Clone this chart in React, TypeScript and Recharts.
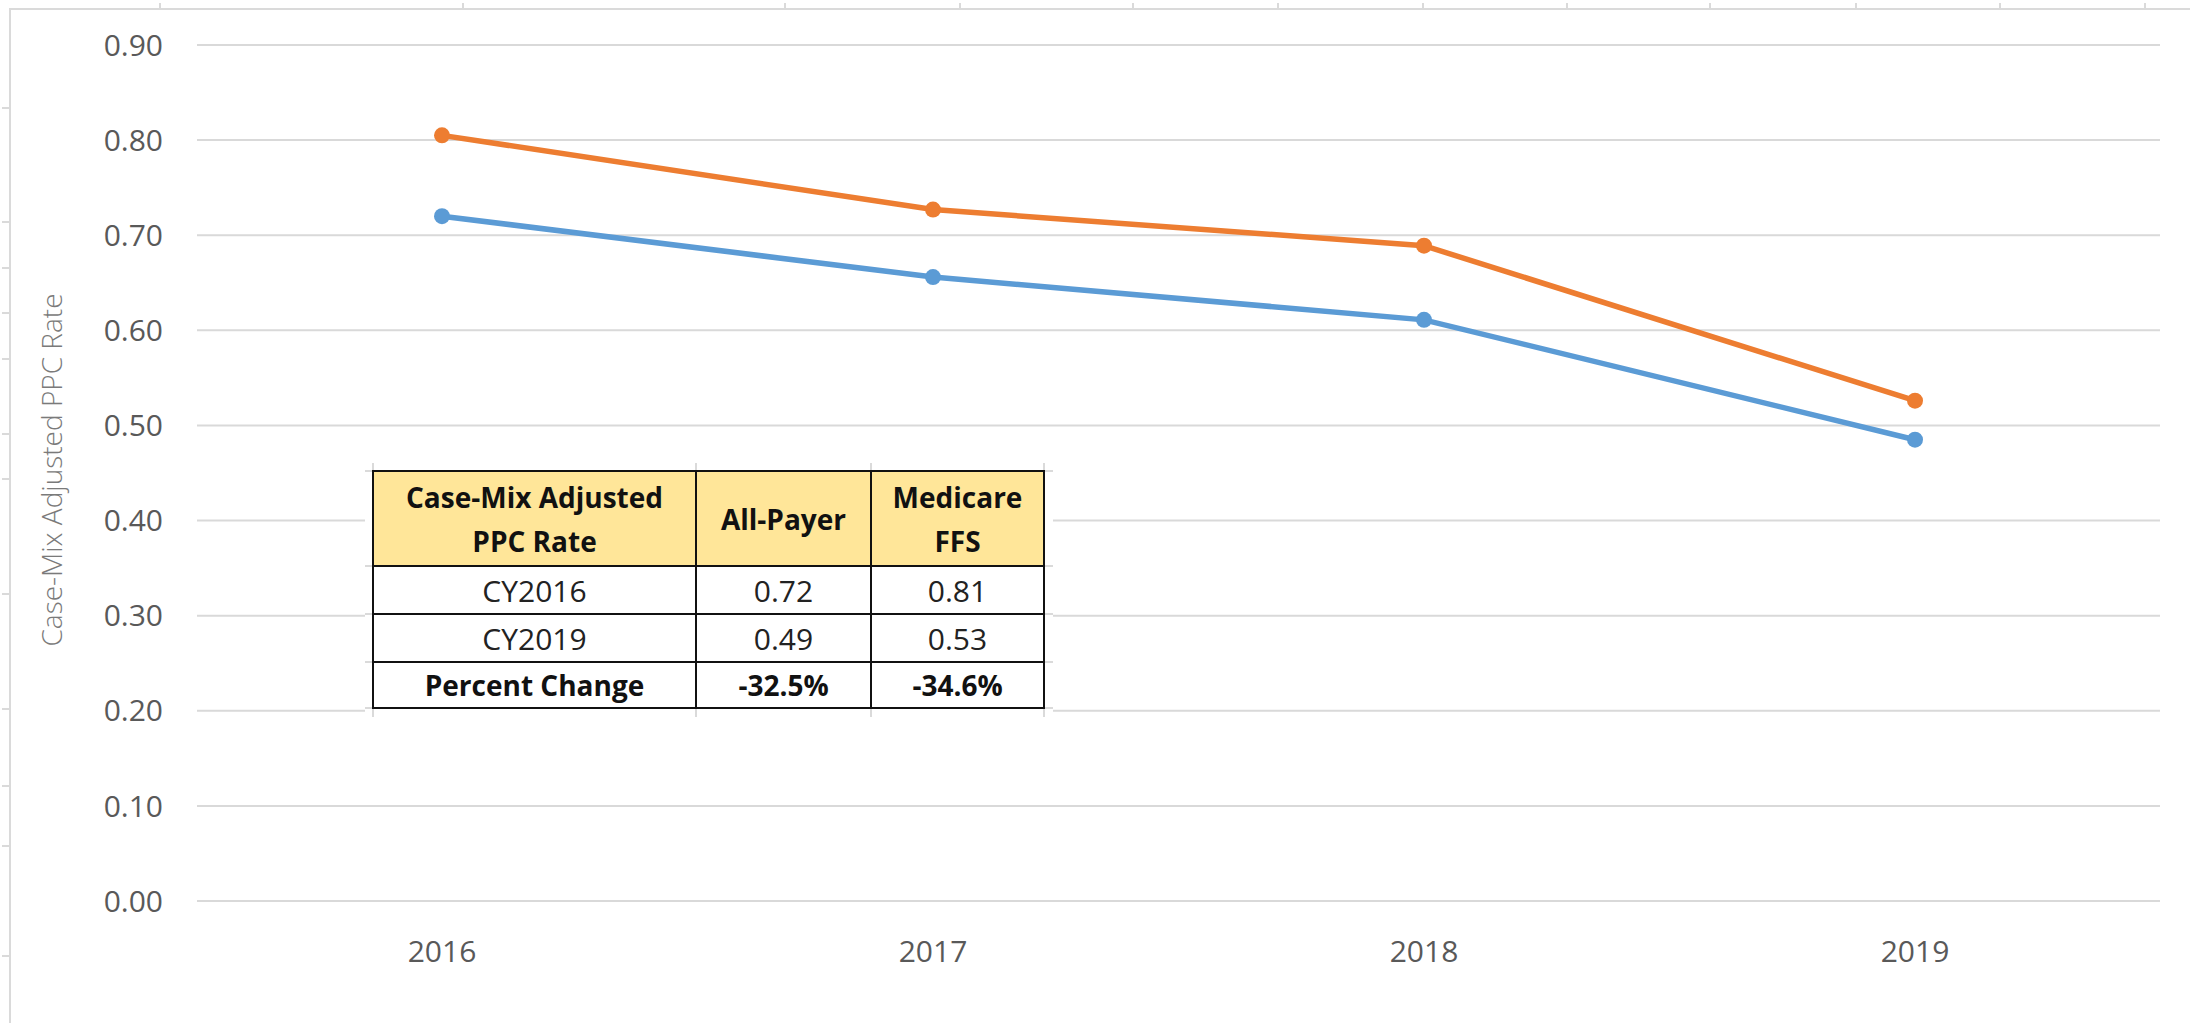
import { CartesianGrid, Line, LineChart, XAxis, YAxis } from 'recharts';

const years = ['2016', '2017', '2018', '2019'];
const allPayer = [0.72, 0.656, 0.611, 0.485];
const medicareFfs = [0.805, 0.727, 0.689, 0.526];
const yTicks = [0, 0.1, 0.2, 0.3, 0.4, 0.5, 0.6, 0.7, 0.8, 0.9];

const tableHeader = ['Case-Mix Adjusted PPC Rate', 'All-Payer', 'Medicare FFS'];
const tableRows = [
  ['CY2016', '0.72', '0.81'],
  ['CY2019', '0.49', '0.53'],
];
const tableChange = ['Percent Change', '-32.5%', '-34.6%'];

const rows = years.map((year, i) => ({ year, allPayer: allPayer[i], medicare: medicareFfs[i] }));

// spreadsheet cell edges peeking around the chart object
const sheetColEdges = [159, 462, 784, 959, 1132, 1277, 1422, 1566, 1709, 1855, 1999, 2144];
const sheetRowEdges = [107, 221, 267, 312, 358, 433, 478, 593, 708, 785, 845, 955];
// sheet lines inside the pasted table picture (relative to its white box)
const pasteRowLines = [8, 103, 151, 199, 245];
const pasteColLines = [8, 331, 506, 679];

const FONT = '"Open Sans", "Liberation Sans", sans-serif';
const SHEET = '#dadada';

const cell = (extra: React.CSSProperties = {}): React.CSSProperties => ({
  border: '2px solid #111',
  textAlign: 'center',
  padding: 0,
  color: '#222',
  fontSize: 30,
  ...extra,
});

export default function App() {
  return (
    <div style={{ position: 'absolute', left: 0, top: 0, width: 2190, height: 1023, background: '#fff', overflow: 'hidden', fontFamily: FONT }}>
      {/* frame lines */}
      <div style={{ position: 'absolute', left: 10, top: 8, width: 2180, height: 2, background: SHEET }} />
      <div style={{ position: 'absolute', left: 9, top: 8, width: 2, height: 1015, background: SHEET }} />
      {sheetColEdges.map((x) => (
        <div key={'c' + x} style={{ position: 'absolute', left: x, top: 3, width: 2, height: 6, background: SHEET }} />
      ))}
      {sheetRowEdges.map((y) => (
        <div key={'r' + y} style={{ position: 'absolute', left: 2, top: y, width: 8, height: 2, background: SHEET }} />
      ))}

      <div style={{ position: 'absolute', left: 0, top: 0 }}>
        <LineChart width={2190} height={1023} data={rows} margin={{ top: 45, right: 30, bottom: 62, left: 137 }}>
          <CartesianGrid vertical={false} stroke="#d9d9d9" strokeWidth={2} />
          <XAxis
            dataKey="year"
            axisLine={false}
            tickLine={false}
            tickSize={0}
            tickMargin={40}
            height={60}
            padding={{ left: 245, right: 245 }}
            tick={{ fill: '#595959', fontSize: 30, fontFamily: FONT }}
          />
          <YAxis
            domain={[0, 0.9]}
            ticks={yTicks}
            width={60}
            axisLine={false}
            tickLine={false}
            tickSize={0}
            tickMargin={34}
            tickFormatter={(v: number) => v.toFixed(2)}
            tick={{ fill: '#595959', fontSize: 30, fontFamily: FONT }}
            label={{
              content: ({ viewBox }: any) => {
                const cy = viewBox.y + viewBox.height / 2 - 3;
                return (
                  <text
                    x={51}
                    y={cy}
                    transform={`rotate(-90, 51, ${cy})`}
                    textAnchor="middle"
                    dominantBaseline="central"
                    fill="#7a7a7a"
                    fontSize={28}
                    fontFamily={FONT}
                    fontWeight={300}
                  >
                    Case-Mix Adjusted PPC Rate
                  </text>
                );
              },
            }}
          />
          <Line
            dataKey="allPayer"
            name="All-Payer"
            stroke="#5B9BD5"
            strokeWidth={5.5}
            dot={{ r: 8, fill: '#5B9BD5', stroke: 'none' }}
            isAnimationActive={false}
          />
          <Line
            dataKey="medicare"
            name="Medicare FFS"
            stroke="#ED7D31"
            strokeWidth={5.5}
            dot={{ r: 8, fill: '#ED7D31', stroke: 'none' }}
            isAnimationActive={false}
          />
        </LineChart>
      </div>

      {/* pasted table picture: white box with faint sheet lines, then the table */}
      <div style={{ position: 'absolute', left: 365, top: 463, width: 688, height: 254, background: '#fff' }}>
        {pasteRowLines.map((y) => (
          <div key={'pr' + y} style={{ position: 'absolute', left: 0, top: y - 1, width: 688, height: 2, background: SHEET }} />
        ))}
        {pasteColLines.map((x) => (
          <div key={'pc' + x} style={{ position: 'absolute', left: x - 1, top: 0, width: 2, height: 254, background: SHEET }} />
        ))}
        <table
          style={{
            position: 'absolute',
            left: 7,
            top: 7,
            borderCollapse: 'collapse',
            fontFamily: FONT,
            background: '#fff',
          }}
        >
          <colgroup>
            <col style={{ width: 323 }} />
            <col style={{ width: 175 }} />
            <col style={{ width: 173 }} />
          </colgroup>
          <tbody>
            <tr style={{ height: 95 }}>
              {tableHeader.map((h, i) => (
                <td
                  key={h}
                  style={cell({
                    background: '#FFE699',
                    fontWeight: 700,
                    fontSize: 28,
                    lineHeight: '44px',
                    color: '#111',
                    padding: i === 0 ? '0 8px' : '0 4px',
                  })}
                >
                  {h}
                </td>
              ))}
            </tr>
            {tableRows.map((r) => (
              <tr key={r[0]} style={{ height: 48 }}>
                {r.map((v, i) => (
                  <td key={i} style={cell()}>
                    {v}
                  </td>
                ))}
              </tr>
            ))}
            <tr style={{ height: 46 }}>
              {tableChange.map((v, i) => (
                <td key={i} style={cell({ fontWeight: 700, fontSize: 28, color: '#111' })}>
                  {v}
                </td>
              ))}
            </tr>
          </tbody>
        </table>
      </div>
    </div>
  );
}
